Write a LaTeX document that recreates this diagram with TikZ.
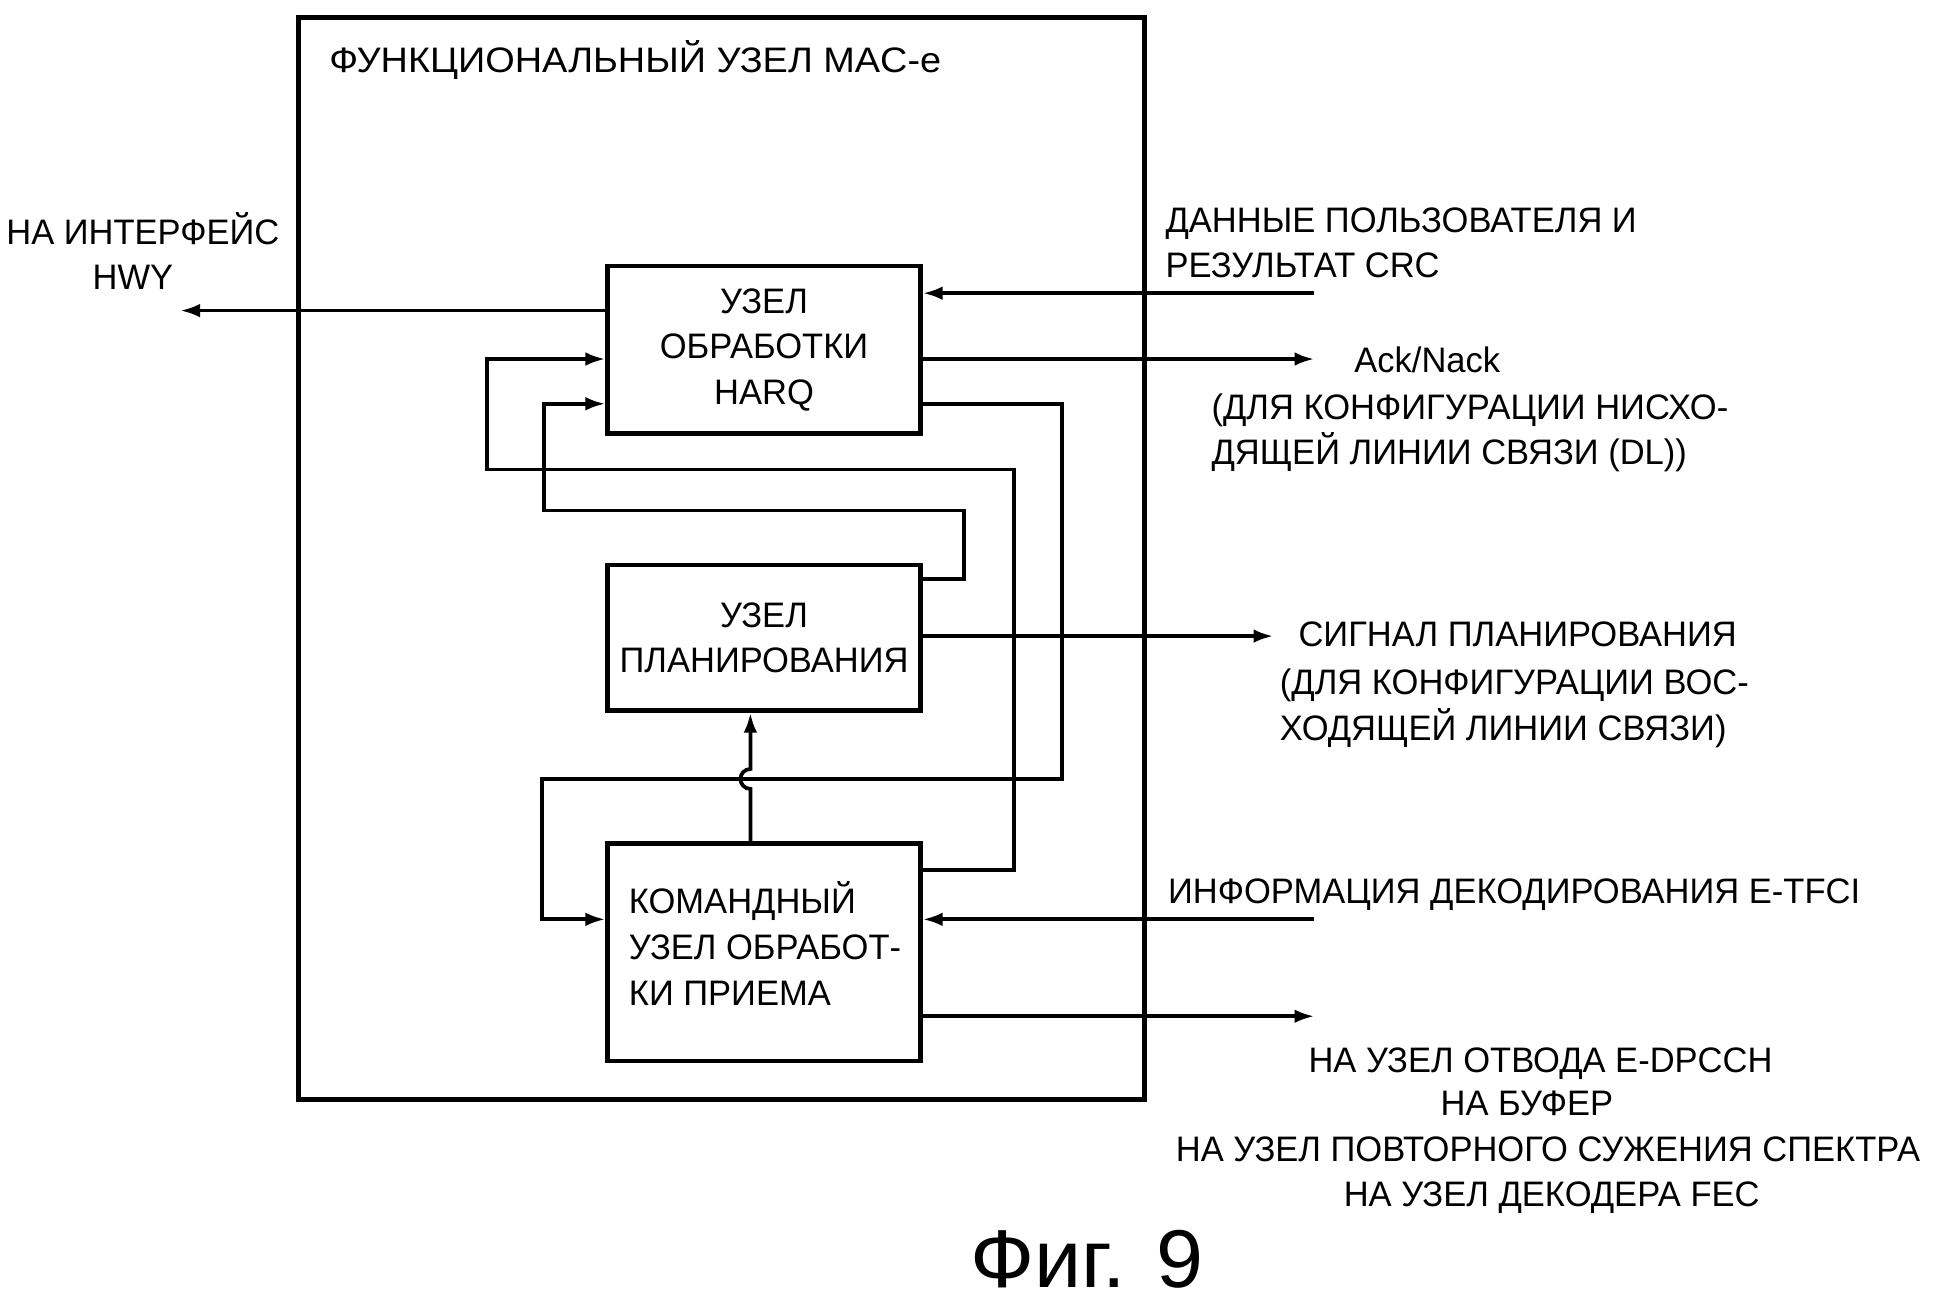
\documentclass[tikz,border=0pt]{standalone}
\usepackage{fontspec}
\setmainfont{Liberation Sans}[FakeStretch=0.975]
\newfontfamily\titlefont{Liberation Sans}[FakeStretch=1.07]
\newfontfamily\figfont{Liberation Sans}[FakeStretch=1.03]
\usetikzlibrary{arrows.meta,calc}
\begin{document}
\begin{tikzpicture}[x=1pt,y=-1pt,
  box/.style={draw,line width=3.5pt,minimum width=252pt,inner sep=0pt,font=\fontsize{28.5}{36.5}\selectfont},
  wire/.style={line width=3pt},
  arr/.style={wire,-{Latex[length=16pt,width=11pt]}},
  lbl/.style={inner sep=0pt,font=\fontsize{28.5}{36.5}\selectfont}]
\useasboundingbox (0,0) rectangle (1568,1051);
\fill[white] (0,0) rectangle (1568,1051);

% outer frame
\node[draw,line width=4pt,minimum width=681pt,minimum height=871pt,inner sep=0pt] (frame) at (580.5,449.5) {};
\node[inner sep=0pt,anchor=base west,font=\titlefont\fontsize{28.5}{36.5}\selectfont] (title) at (265,58) {ФУНКЦИОНАЛЬНЫЙ УЗЕЛ MAC-e};

% blocks
\node[box,minimum height=135pt,align=center] (harq) at (615,281.5) {УЗЕЛ\\ОБРАБОТКИ\\HARQ};
\node[box,minimum height=117pt,align=center] (sched) at (615,513.5) {УЗЕЛ\\ПЛАНИРОВАНИЯ};
\node[box,minimum height=175pt] (cmd) at (615,766.5) {};
\node[lbl,anchor=base west] (cmdt1) at (506,735) {КОМАНДНЫЙ};
\node[lbl,anchor=base west] (cmdt2) at (506,772) {УЗЕЛ ОБРАБОТ-};
\node[lbl,anchor=base west] (cmdt3) at (506,809) {КИ ПРИЕМА};

% free ends
\coordinate (hwy) at (145,250);
\coordinate (datain) at (1058,236);
\coordinate (ackout) at (1058,289);
\coordinate (schedout) at (1025,512);
\coordinate (tfciin) at (1058,740);
\coordinate (cmdout) at (1058,818);

% external connectors
\draw[arr] ([yshift=31.5pt]harq.west) -- (hwy);
\draw[arr] (datain) -- ([yshift=45.5pt]harq.east);
\draw[arr] ([yshift=-7.5pt]harq.east) -- (ackout);
\draw[arr] (sched.east |- schedout) -- (schedout);
\draw[arr] (tfciin) -- ([yshift=26.5pt]cmd.east);
\draw[arr] ([yshift=-51.5pt]cmd.east) -- (cmdout);

% internal loops
\draw[arr] ([yshift=66.5pt]cmd.east) -- (816,700) -- (816,378) -- (392,378) -- (392,289) -- ([yshift=-7.5pt]harq.west);
\draw[arr] ([yshift=47.5pt]sched.east) -- (776,466) -- (776,411) -- (438,411) -- (438,325) -- ([yshift=-43.5pt]harq.west);
\draw[arr] ([yshift=-43.5pt]harq.east) -- (855,325) -- (855,627) -- (436,627) -- (436,740) -- ([yshift=26.5pt]cmd.west);
\draw[arr] ([xshift=-11pt]cmd.north) -- (604,635) arc[start angle=-90,end angle=-270,radius=8pt] -- ([xshift=-11pt]sched.south);

% labels
\node[lbl,anchor=base] (hwy1) at (115,197) {НА ИНТЕРФЕЙС};
\node[lbl,anchor=base] (hwy2) at (107,233) {HWY};
\node[lbl,anchor=base west] (data1) at (938,187) {ДАННЫЕ ПОЛЬЗОВАТЕЛЯ И};
\node[lbl,anchor=base west] (data2) at (938,223) {РЕЗУЛЬТАТ CRC};
\node[lbl,anchor=base west] (ack) at (1090,300) {Ack/Nack};
\node[lbl,anchor=base west] (ack1) at (975,338) {(ДЛЯ КОНФИГУРАЦИИ НИСХО-};
\node[lbl,anchor=base west] (ack2) at (975,374) {ДЯЩЕЙ ЛИНИИ СВЯЗИ (DL))};
\node[lbl,anchor=base west] (sig) at (1045,520) {СИГНАЛ ПЛАНИРОВАНИЯ};
\node[lbl,anchor=base west] (sig1) at (1030,559) {(ДЛЯ КОНФИГУРАЦИИ ВОС-};
\node[lbl,anchor=base west] (sig2) at (1030,596) {ХОДЯЩЕЙ ЛИНИИ СВЯЗИ)};
\node[lbl,anchor=base west] (tfci) at (940,727) {ИНФОРМАЦИЯ ДЕКОДИРОВАНИЯ E-TFCI};
\node[lbl,anchor=base] (out1) at (1240,863) {НА УЗЕЛ ОТВОДА E-DPCCH};
\node[lbl,anchor=base] (out2) at (1229,898) {НА БУФЕР};
\node[lbl,anchor=base] (out3) at (1246,935) {НА УЗЕЛ ПОВТОРНОГО СУЖЕНИЯ СПЕКТРА};
\node[lbl,anchor=base] (out4) at (1249,971) {НА УЗЕЛ ДЕКОДЕРА FEC};
\node[inner sep=0pt,anchor=base,font=\figfont\fontsize{66}{72}\selectfont] (fig) at (875,1036) {Фиг. 9};
\end{tikzpicture}
\end{document}
